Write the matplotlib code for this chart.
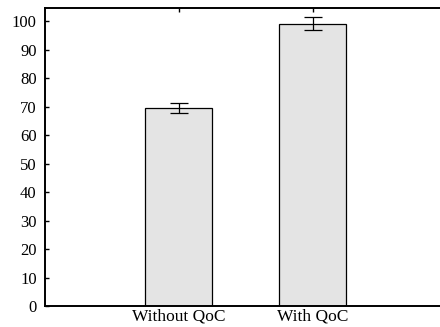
import matplotlib
matplotlib.use("Agg")
import matplotlib.pyplot as plt

categories = ["Without QoC", "With QoC"]
values = [69.4, 99.1]
errors = [1.8, 2.2]
yticks = [0, 10, 20, 30, 40, 50, 60, 70, 80, 90, 100]

plt.rcParams['font.family'] = ['Liberation Serif', 'DejaVu Serif']
fig = plt.figure(figsize=(4.4, 3.27), dpi=100)
ax = fig.add_axes([45/440, 1-306/327, 1-45/440, (306-8)/327])

x = [1, 2]
ax.bar(x, values, width=0.5, color='#e4e4e4', edgecolor='black', linewidth=0.9, zorder=2)
ax.errorbar(x, values, yerr=errors, fmt='none', ecolor='black', elinewidth=0.9,
            capsize=6.5, capthick=0.9, zorder=3)

ax.set_xlim(0.003, 2.949)
ax.set_ylim(0, 104.6)
ax.set_yticks(yticks)
ax.set_yticklabels([str(v) for v in yticks])
ax.set_xticks(x)
ax.set_xticklabels(categories)
ax.tick_params(axis='y', direction='in', length=3, width=1, labelsize=12, pad=6)
ax.tick_params(axis='x', direction='in', length=3, width=1, labelsize=12.5, pad=2,
               bottom=False, top=True, labelbottom=True)
for s in ['left', 'bottom', 'top']:
    ax.spines[s].set_linewidth(1.4)
ax.spines['right'].set_visible(False)

fig.savefig("out.png", dpi=100)
